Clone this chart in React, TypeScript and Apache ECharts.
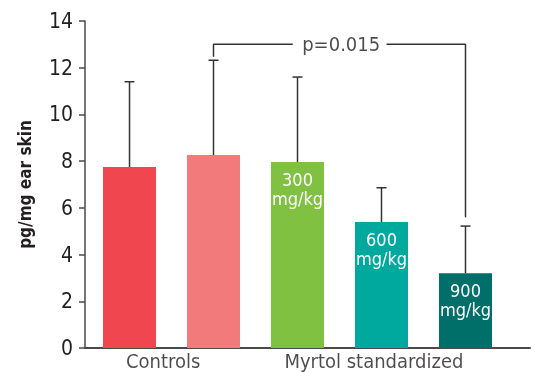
import React, { useEffect, useRef } from "react";
import * as echarts from "echarts";

// Group positions on the numeric x scale (1..5 = bars)
const barPositions = [1, 2, 3, 4, 5];
const meanValues = [7.75, 8.26, 7.96, 5.39, 3.2];
const upperError = [11.4, 12.32, 11.6, 6.86, 5.22];
const barColors = ["#EF4650", "#F27A7A", "#80C142", "#00A99D", "#006F69"];
const barLabels = ["", "", "300\nmg/kg", "600\nmg/kg", "900\nmg/kg"];

const groupLabels = ["Controls", "Myrtol standardized"];
const groupLabelPositions = [1.4, 3.91];

// Significance bracket between bar 2 and bar 5
const bracketLeft = [[2, 12.47], [2, 13.0], [2.943, 13.0]];
const bracketRight = [[4.06, 13.0], [5, 13.0], [5, 5.6]];
const pValueText = "p=0.015";
const pValuePosition = [3.52, 13.0];

const yTicks = [0, 2, 4, 6, 8, 10, 12, 14];

const FONT = "'DejaVu Sans Condensed', 'Roboto', sans-serif";
const AXIS_COLOR = "#4a4a4a";
const TEXT_COLOR = "#231f20";

export default function App() {
  const ref = useRef<HTMLDivElement>(null);

  useEffect(() => {
    if (!ref.current) return;
    const chart = echarts.init(ref.current, undefined, { renderer: "svg" });

    const option: any = {
      animation: false,
      grid: { left: 85, right: 5, top: 21, bottom: 24 },
      xAxis: {
        type: "value",
        min: 0.47,
        max: 5.768,
        axisLine: { show: true, lineStyle: { color: AXIS_COLOR, width: 2 } },
        axisTick: { show: false },
        axisLabel: { show: false },
        splitLine: { show: false },
      },
      yAxis: {
        type: "value",
        min: 0,
        max: yTicks[yTicks.length - 1],
        interval: 2,
        name: "pg/mg ear skin",
        nameLocation: "middle",
        nameGap: 52,
        nameTextStyle: { fontFamily: FONT, fontSize: 17, fontWeight: "bold", color: TEXT_COLOR },
        axisLine: { show: true, lineStyle: { color: AXIS_COLOR, width: 1.5 } },
        axisTick: { show: true, length: 6, lineStyle: { color: AXIS_COLOR, width: 1.5 } },
        axisLabel: { fontFamily: FONT, fontSize: 21, color: TEXT_COLOR, margin: 12 },
        splitLine: { show: false },
      },
      series: [
        {
          type: "bar",
          barWidth: 53,
          data: barPositions.map((x, i) => ({
            value: [x, meanValues[i]],
            itemStyle: { color: barColors[i] },
            label: {
              show: barLabels[i] !== "",
              formatter: barLabels[i],
              position: "insideTop",
              distance: 8,
              color: "#fff",
              fontFamily: FONT,
              fontSize: 18,
              lineHeight: 19,
            },
          })),
          z: 2,
        },
        {
          type: "custom",
          z: 3,
          renderItem: (params: any, api: any) => {
            const x = api.value(0);
            const top = api.coord([x, api.value(2)]);
            const base = api.coord([x, api.value(1)]);
            const style = { stroke: "#333", lineWidth: 1.5 };
            return {
              type: "group",
              children: [
                { type: "line", shape: { x1: base[0], y1: base[1], x2: top[0], y2: top[1] }, style },
                { type: "line", shape: { x1: top[0] - 5, y1: top[1], x2: top[0] + 5, y2: top[1] }, style },
              ],
            };
          },
          data: barPositions.map((x, i) => [x, meanValues[i], upperError[i]]),
        },
        {
          type: "line",
          data: bracketLeft,
          symbol: "none",
          lineStyle: { color: "#333", width: 1.5 },
          z: 4,
        },
        {
          type: "line",
          data: bracketRight,
          symbol: "none",
          lineStyle: { color: "#333", width: 1.5 },
          z: 4,
        },
        {
          type: "scatter",
          symbolSize: 0,
          data: [pValuePosition],
          label: {
            show: true,
            position: "inside",
            formatter: pValueText,
            fontFamily: FONT,
            fontSize: 20,
            color: TEXT_COLOR,
          },
          z: 5,
        },
        {
          type: "scatter",
          symbolSize: 0,
          clip: false,
          data: groupLabelPositions.map((x, i) => ({ value: [x, 0], name: groupLabels[i] })),
          label: {
            show: true,
            position: "bottom",
            distance: 3,
            formatter: "{b}",
            fontFamily: FONT,
            fontSize: 20,
            color: TEXT_COLOR,
          },
          z: 5,
        },
      ],
    };

    chart.setOption(option);
    return () => chart.dispose();
  }, []);

  return (
    <div
      ref={ref}
      style={{ position: "fixed", left: 0, top: 0, width: 535, height: 372 }}
    />
  );
}
